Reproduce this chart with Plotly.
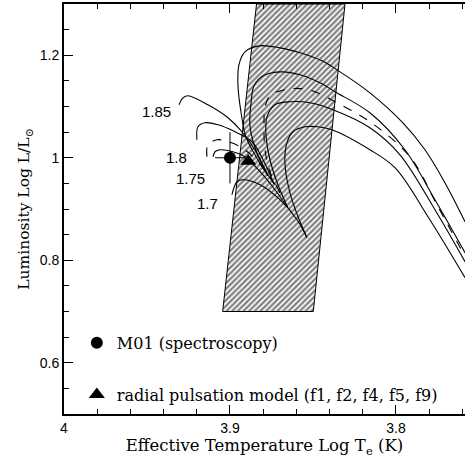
import plotly.graph_objects as go

# ---------------- data ----------------
# Instability strip (hatched band) corners: log Teff, log L
strip_x = [3.9044, 3.8498, 3.8307, 3.8840, 3.9044]
strip_y = [0.70, 0.70, 1.30, 1.30, 0.70]

# Evolutionary tracks: first branch (start -> cusp), second branch (cusp -> loop -> end)
trk1_a_x = [3.9307, 3.9283, 3.9253, 3.9133, 3.9012, 3.8928, 3.8843, 3.8771]
trk1_a_y = [1.1033, 1.1170, 1.1209, 1.1033, 1.0780, 1.0507, 1.0117, 0.9649]
trk1_b_x = [3.8771, 3.8843, 3.8904, 3.8934, 3.8952, 3.8946, 3.8910, 3.8825, 3.8699,
            3.8578, 3.8446, 3.8355, 3.8157, 3.7958, 3.7825, 3.7705, 3.7584]
trk1_b_y = [0.9649, 1.0019, 1.0409, 1.0897, 1.1423, 1.1813, 1.2066, 1.2183, 1.2144,
            1.2047, 1.1891, 1.1715, 1.1267, 1.0682, 1.0156, 0.9513, 0.8752]

trk2_a_x = [3.9199, 3.9193, 3.9151, 3.9072, 3.8970, 3.8867, 3.8795, 3.8735]
trk2_a_y = [1.0351, 1.0604, 1.0682, 1.0643, 1.0507, 1.0312, 0.9922, 0.9493]
trk2_b_x = [3.8735, 3.8807, 3.8855, 3.8880, 3.8873, 3.8855, 3.8801, 3.8687, 3.8578,
            3.8446, 3.8367, 3.8157, 3.7946, 3.7765, 3.7584]
trk2_b_y = [0.9493, 0.9864, 1.0253, 1.0643, 1.1072, 1.1404, 1.1598, 1.1676, 1.1618,
            1.1442, 1.1287, 1.0877, 1.0156, 0.9181, 0.8148]

trk3_a_x = [3.9139, 3.9133, 3.9078, 3.9012, 3.8928, 3.8843, 3.8765, 3.8699]
trk3_a_y = [1.0019, 1.0253, 1.0351, 1.0312, 1.0195, 0.9961, 0.9649, 0.9318]
trk3_b_x = [3.8699, 3.8759, 3.8789, 3.8795, 3.8789, 3.8759, 3.8639, 3.8524, 3.8446,
            3.8355, 3.8157, 3.7916, 3.7747, 3.7584]
trk3_b_y = [0.9318, 0.9727, 1.0156, 1.0604, 1.0975, 1.1209, 1.1345, 1.1326, 1.1228,
            1.1072, 1.0702, 1.0019, 0.9045, 0.8070]

trk4_a_x = [3.9102, 3.9090, 3.9060, 3.8982, 3.8910, 3.8819, 3.8729, 3.8651]
trk4_a_y = [1.0019, 1.0117, 1.0156, 1.0117, 1.0019, 0.9727, 0.9376, 0.9025]
trk4_b_x = [3.8651, 3.8711, 3.8759, 3.8783, 3.8777, 3.8729, 3.8639, 3.8518, 3.8380,
            3.8157, 3.7976, 3.7765, 3.7584]
trk4_b_y = [0.9025, 0.9474, 0.9961, 1.0448, 1.0799, 1.1033, 1.1092, 1.1072, 1.0936,
            1.0585, 1.0058, 0.8986, 0.7973]

trk5_a_x = [3.8988, 3.8958, 3.8922, 3.8819, 3.8699, 3.8596, 3.8536]
trk5_a_y = [0.9279, 0.9532, 0.9571, 0.9474, 0.9181, 0.8791, 0.8441]
trk5_b_x = [3.8536, 3.8590, 3.8639, 3.8669, 3.8657, 3.8620, 3.8548, 3.8470, 3.8386,
            3.8157, 3.8006, 3.7807, 3.7584]
trk5_b_y = [0.8441, 0.8850, 0.9318, 0.9903, 1.0292, 1.0507, 1.0604, 1.0604, 1.0546,
            1.0156, 0.9805, 0.8850, 0.7661]

# Mass labels
mass_labels = ["1.85", "1.8", "1.75", "1.7"]
mass_label_x = [3.9440, 3.9325, 3.9235, 3.9133]
mass_label_y = [1.0897, 1.0000, 0.9591, 0.9103]

# Observed / model positions
m01_x = [3.900]
m01_y = [1.000]
m01_err_x = [0.009]
m01_err_y = [0.050]
model_x = [3.889]
model_y = [0.993]

x_tickvals = [4.0, 3.9, 3.8]
x_ticktext = ["4", "3.9", "3.8"]
y_tickvals = [0.6, 0.8, 1.0, 1.2]
y_ticktext = ["0.6", "0.8", "1", "1.2"]

# ---------------- figure ----------------
fig = go.Figure()

fig.add_trace(go.Scatter(
    x=strip_x, y=strip_y, mode="lines", fill="toself",
    line=dict(color="black", width=1),
    fillcolor="white",
    fillpattern=dict(shape="/", size=4, solidity=0.55, fgcolor="black", bgcolor="white"),
    showlegend=False, hoverinfo="skip"))

tracks = [
    (trk1_a_x, trk1_a_y, trk1_b_x, trk1_b_y, "solid"),
    (trk2_a_x, trk2_a_y, trk2_b_x, trk2_b_y, "solid"),
    (trk3_a_x, trk3_a_y, trk3_b_x, trk3_b_y, "dash"),
    (trk4_a_x, trk4_a_y, trk4_b_x, trk4_b_y, "solid"),
    (trk5_a_x, trk5_a_y, trk5_b_x, trk5_b_y, "solid"),
]
for ax, ay, bx, by, dash in tracks:
    for xs, ys in ((ax, ay), (bx, by)):
        fig.add_trace(go.Scatter(
            x=xs, y=ys, mode="lines",
            line=dict(color="black", width=1.1, dash=dash, shape="spline", smoothing=1.0),
            showlegend=False, hoverinfo="skip"))

# error bars for M01 (no legend)
fig.add_trace(go.Scatter(
    x=m01_x, y=m01_y, mode="markers", marker=dict(size=1, color="black"),
    error_x=dict(type="data", array=m01_err_x, color="black", thickness=1, width=0),
    error_y=dict(type="data", array=m01_err_y, color="black", thickness=1, width=0),
    showlegend=False, hoverinfo="skip"))

fig.add_trace(go.Scatter(
    x=m01_x, y=m01_y, mode="markers",
    marker=dict(symbol="circle", size=12, color="black"),
    name="M01 (spectroscopy)", legendgroup="a"))

fig.add_trace(go.Scatter(
    x=model_x, y=model_y, mode="markers",
    marker=dict(symbol="triangle-up", size=14, color="black"),
    name="radial pulsation model (f1, f2, f4, f5, f9)", legendgroup="b"))

for t, lx, ly in zip(mass_labels, mass_label_x, mass_label_y):
    fig.add_annotation(x=lx, y=ly, text=t, showarrow=False,
                       font=dict(family="Liberation Sans", size=15, color="black"),
                       xanchor="center", yanchor="middle")

axis_common = dict(
    showline=True, linewidth=2, linecolor="black",
    ticks="inside", ticklen=9, tickwidth=1.2, tickcolor="black",
    showgrid=False, zeroline=False,
    tickfont=dict(family="Liberation Sans", size=14, color="black"),
)

fig.update_xaxes(
    range=[4.0, 3.7584], tickmode="array", tickvals=x_tickvals, ticktext=x_ticktext,
    mirror="ticks",
    minor=dict(dtick=0.02, tick0=4.0, ticks="inside", ticklen=5, tickwidth=1.2, tickcolor="black"),
    title=dict(text="Effective Temperature Log T<sub>e</sub> (K)",
               font=dict(family="DejaVu Serif", size=16.5, color="black"), standoff=5),
    **axis_common)

fig.update_yaxes(
    range=[0.5, 1.3], tickmode="array", tickvals=y_tickvals, ticktext=y_ticktext,
    minor=dict(dtick=0.05, tick0=0.5, ticks="inside", ticklen=5, tickwidth=1.2, tickcolor="black"),
    title=dict(text="Luminosity Log L/L<sub>⊙</sub>",
               font=dict(family="DejaVu Serif", size=15.5, color="black"), standoff=6),
    **axis_common)

fig.update_layout(
    width=465, height=459,
    margin=dict(l=64, r=0, t=4, b=45),
    paper_bgcolor="white", plot_bgcolor="white",
    legend=dict(x=0.032, y=0.215, xanchor="left", yanchor="top",
                traceorder="grouped", tracegroupgap=28,
                bgcolor="rgba(0,0,0,0)",
                font=dict(family="DejaVu Serif", size=16, color="black")),
)

fig.write_html("out.html")
